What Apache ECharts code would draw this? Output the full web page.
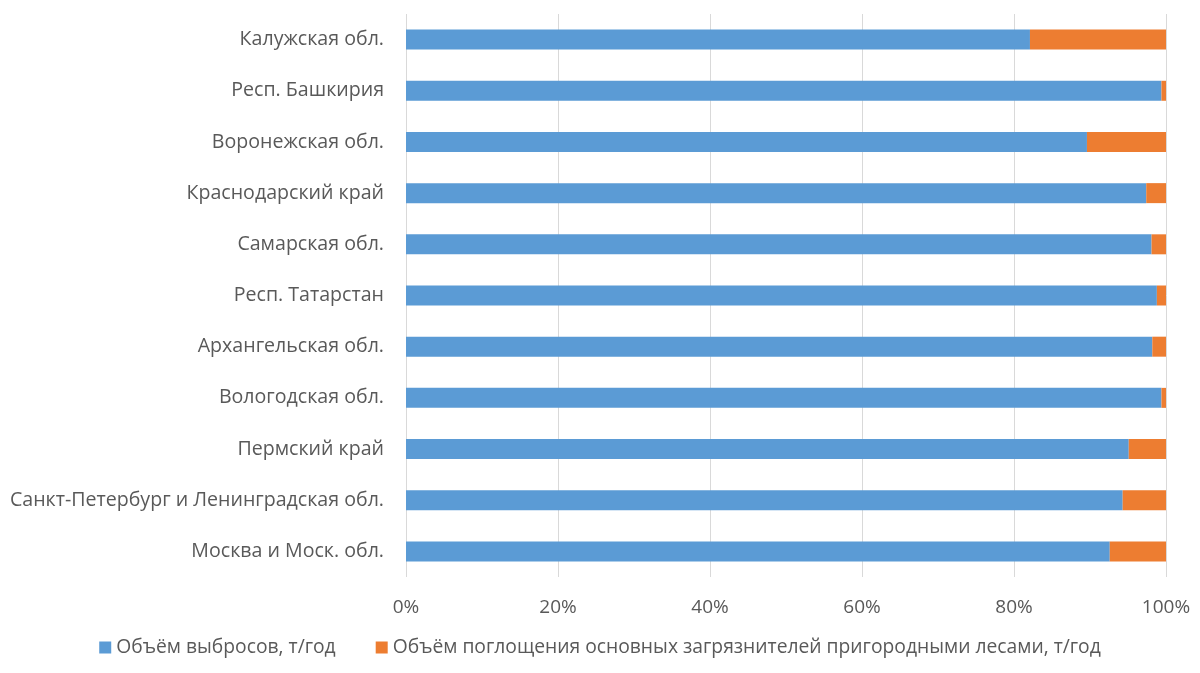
<!DOCTYPE html>
<html>
<head>
<meta charset="utf-8">
<script src="https://cdn.jsdelivr.net/npm/echarts@6/dist/echarts.min.js"></script>
<style>
  html, body { margin: 0; padding: 0; background: #fff; }
  #chart { width: 1200px; height: 673px; }
</style>
</head>
<body>
<div id="chart"></div>
<script>
// regions, top to bottom
var regions = ['Калужская обл.', 'Респ. Башкирия', 'Воронежская обл.', 'Краснодарский край',
  'Самарская обл.', 'Респ. Татарстан', 'Архангельская обл.', 'Вологодская обл.',
  'Пермский край', 'Санкт-Петербург и Ленинградская обл.', 'Москва и Моск. обл.'];

// share of emissions, %
var emissions = [82.1, 99.4, 89.6, 97.4, 98.1, 98.8, 98.2, 99.4, 95.1, 94.3, 92.6];
// share of absorption by suburban forests, %
var absorption = [17.9, 0.6, 10.4, 2.6, 1.9, 1.2, 1.8, 0.6, 4.9, 5.7, 7.4];

var seriesNames = ['Объём выбросов, т/год',
  'Объём поглощения основных загрязнителей пригородными лесами, т/год'];

var font = '"Open Sans", sans-serif';
var chart = echarts.init(document.getElementById('chart'));

chart.setOption({
  animation: false,
  color: ['#5b9bd5', '#ed7d31'],
  textStyle: { fontFamily: font },
  grid: { left: 406, right: 34, top: 14, bottom: 96 },
  legend: {
    bottom: 11,
    left: 'center',
    itemWidth: 12,
    itemHeight: 12,
    itemGap: 40,
    icon: 'rect',
    textStyle: { fontSize: 19.3, color: '#595959', fontFamily: font },
    data: seriesNames
  },
  xAxis: {
    type: 'value',
    min: 0,
    max: 100,
    interval: 20,
    axisLine: { show: false },
    axisTick: { show: false },
    axisLabel: { formatter: '{value}%', fontSize: 19, color: '#595959', margin: 21 },
    splitLine: { lineStyle: { color: '#d9d9d9', width: 1 } }
  },
  yAxis: {
    type: 'category',
    inverse: true,
    data: regions,
    axisLine: { show: false },
    axisTick: { show: false },
    axisLabel: { fontSize: 19.6, color: '#595959', margin: 22 }
  },
  series: [
    { name: seriesNames[0], type: 'bar', stack: 'total', barWidth: 20, data: emissions },
    { name: seriesNames[1], type: 'bar', stack: 'total', barWidth: 20, data: absorption }
  ]
});
</script>
</body>
</html>
